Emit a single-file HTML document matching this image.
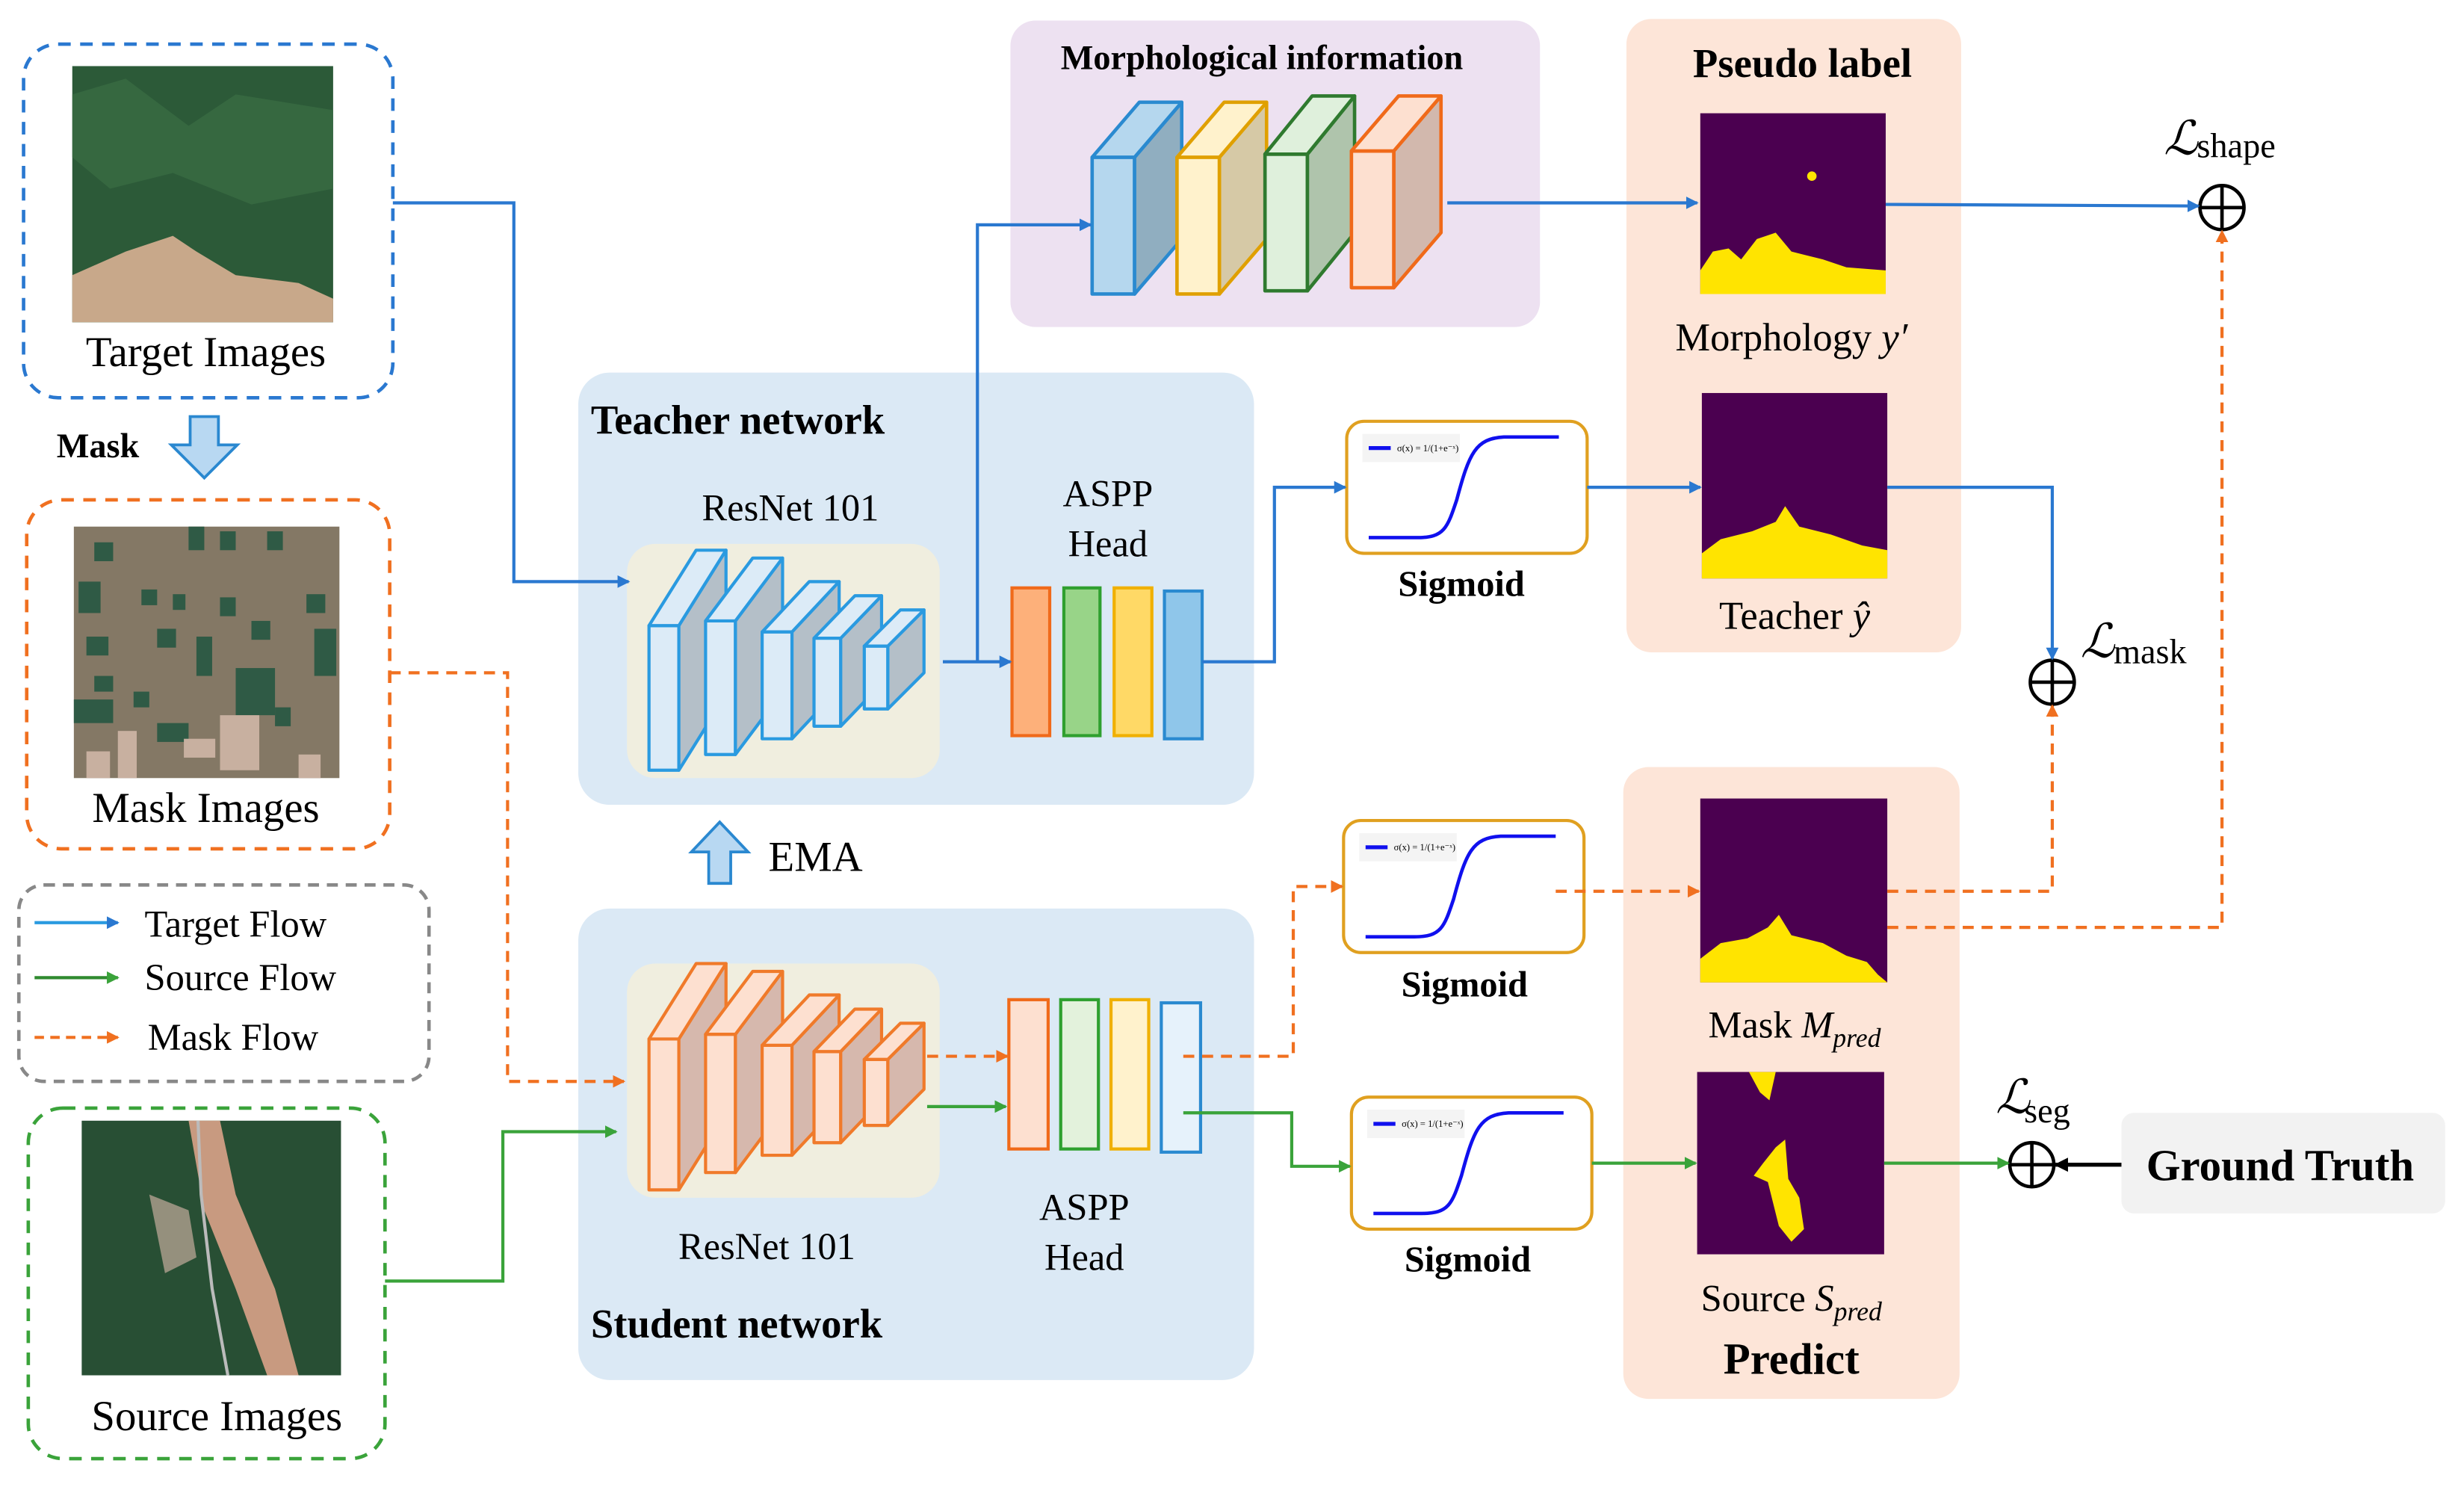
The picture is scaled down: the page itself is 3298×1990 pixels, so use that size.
<!DOCTYPE html>
<html><head><meta charset="utf-8"><style>html,body{margin:0;padding:0;background:#fff}svg{display:block}</style></head>
<body>
<svg width="3298" height="1990" viewBox="0 0 1568 946" xmlns="http://www.w3.org/2000/svg" font-family="'Liberation Serif',serif">
<defs>
<marker id="ab" markerWidth="8" markerHeight="8" refX="7" refY="4" orient="auto" markerUnits="userSpaceOnUse"><path d="M0,0L8,4L0,8z" fill="#2a78d0"/></marker>
<marker id="ag" markerWidth="8" markerHeight="8" refX="7" refY="4" orient="auto" markerUnits="userSpaceOnUse"><path d="M0,0L8,4L0,8z" fill="#3aa33a"/></marker>
<marker id="ao" markerWidth="8" markerHeight="8" refX="7" refY="4" orient="auto" markerUnits="userSpaceOnUse"><path d="M0,0L8,4L0,8z" fill="#f07020"/></marker>
<marker id="ak" markerWidth="9" markerHeight="9" refX="8" refY="4.5" orient="auto" markerUnits="userSpaceOnUse"><path d="M0,0L9,4.5L0,9z" fill="#000"/></marker>
<g id="sig">
<rect x="0" y="0" width="153" height="84" rx="11" fill="#fff" stroke="#e0a020" stroke-width="2"/>
<rect x="10" y="8" width="62" height="18" fill="#f4f4f4"/>
<line x1="14" y1="17" x2="28" y2="17" stroke="#1010ee" stroke-width="2.5"/>
<text x="32" y="19" font-size="6">σ(x) = 1/(1+e⁻ˣ)</text>
<path d="M14,74 L45,74 C62,74 64,68 70,50 C78,20 82,11 100,10 L135,10" fill="none" stroke="#1010ee" stroke-width="2.2"/>
</g>
</defs>

<!-- Target images -->
<rect x="15" y="28" width="235" height="225" rx="22" fill="none" stroke="#2a78d0" stroke-width="2.2" stroke-dasharray="8,6"/>
<rect x="46" y="42" width="166" height="163" fill="#2c5a38"/>
<path d="M46,60 L80,50 L120,80 L150,60 L212,70 L212,120 L160,130 L110,110 L70,120 L46,100z" fill="#3a6e44" opacity="0.7"/>
<path d="M46,175 L80,160 L110,150 L125,160 L150,175 L190,180 L212,190 L212,205 L46,205z" fill="#c8a88a"/>
<text x="131" y="233" font-size="27" text-anchor="middle">Target Images</text>

<text x="36" y="291" font-size="22" font-weight="bold">Mask</text>
<path d="M121,265 L139,265 L139,283 L151,283 L130,304 L109,283 L121,283z" fill="#b8d8f2" stroke="#2a88d0" stroke-width="1.8"/>

<!-- Mask images -->
<rect x="17" y="318" width="231" height="222" rx="22" fill="none" stroke="#f07020" stroke-width="2.2" stroke-dasharray="8,6"/>
<rect x="47" y="335" width="169" height="160" fill="#847865"/>
<g fill="#2f5a45">
<rect x="60" y="345" width="12" height="12"/><rect x="120" y="335" width="10" height="15"/><rect x="140" y="338" width="10" height="12"/><rect x="170" y="338" width="10" height="12"/>
<rect x="50" y="370" width="14" height="20"/><rect x="90" y="375" width="10" height="10"/><rect x="110" y="378" width="8" height="10"/><rect x="140" y="380" width="10" height="12"/><rect x="195" y="378" width="12" height="12"/>
<rect x="55" y="405" width="14" height="12"/><rect x="100" y="400" width="12" height="12"/><rect x="125" y="405" width="10" height="25"/><rect x="160" y="395" width="12" height="12"/><rect x="200" y="400" width="14" height="30"/>
<rect x="60" y="430" width="12" height="10"/><rect x="85" y="440" width="10" height="10"/><rect x="150" y="425" width="25" height="30"/><rect x="47" y="445" width="25" height="15"/><rect x="100" y="460" width="20" height="12"/><rect x="175" y="450" width="10" height="12"/>
</g>
<g fill="#c8b0a0"><rect x="55" y="478" width="15" height="17"/><rect x="75" y="465" width="12" height="30"/><rect x="117" y="470" width="20" height="12"/><rect x="140" y="455" width="25" height="35"/><rect x="190" y="480" width="14" height="15"/></g>
<text x="131" y="523" font-size="27" text-anchor="middle">Mask Images</text>

<!-- Legend -->
<rect x="12" y="563" width="261" height="125" rx="16" fill="none" stroke="#888" stroke-width="2.2" stroke-dasharray="7,5"/>
<line x1="22" y1="587" x2="75" y2="587" stroke="#2a9ae0" stroke-width="2" marker-end="url(#ab)"/>
<text x="92" y="596" font-size="24">Target Flow</text>
<line x1="22" y1="622" x2="75" y2="622" stroke="#2f8a2f" stroke-width="2" marker-end="url(#ag)"/>
<text x="92" y="630" font-size="24">Source Flow</text>
<line x1="22" y1="660" x2="75" y2="660" stroke="#f07020" stroke-width="2" stroke-dasharray="6,4" marker-end="url(#ao)"/>
<text x="94" y="668" font-size="24">Mask Flow</text>

<!-- Source images -->
<rect x="18" y="705" width="227" height="223" rx="22" fill="none" stroke="#3aa33a" stroke-width="2.2" stroke-dasharray="8,6"/>
<rect x="52" y="713" width="165" height="162" fill="#284f34"/>
<path d="M120,713 L140,713 L150,760 L175,820 L190,875 L170,875 L150,820 L130,770z" fill="#c89a80"/>
<path d="M126,713 L128,760 L135,820 L145,875" stroke="#bbb" stroke-width="2" fill="none"/>
<path d="M95,760 L120,770 L125,800 L105,810z" fill="#b0a090" opacity="0.8"/>
<text x="138" y="910" font-size="27" text-anchor="middle">Source Images</text>

<!-- Morphological box -->
<rect x="643" y="13" width="337" height="195" rx="16" fill="#ede1f1"/>
<text x="803" y="44" font-size="22" font-weight="bold" text-anchor="middle">Morphological information</text>
<g stroke-width="2.2" stroke-linejoin="round">
<g stroke="#2a8ad0"><rect x="695" y="100" width="27" height="87" fill="#b5d7ee"/><path d="M722,100L752,65L752,152L722,187z" fill="#90aec0"/><path d="M695,100L725,65L752,65L722,100z" fill="#b5d7ee"/></g>
<g stroke="#e0a000"><rect x="749" y="100" width="27" height="87" fill="#fff2cc"/><path d="M776,100L806,65L806,152L776,187z" fill="#d6c9a6"/><path d="M749,100L779,65L806,65L776,100z" fill="#fff2cc"/></g>
<g stroke="#2f7a2f"><rect x="805" y="98" width="27" height="87" fill="#dff0dc"/><path d="M832,98L862,61L862,148L832,185z" fill="#afc4ac"/><path d="M805,98L835,61L862,61L832,98z" fill="#dff0dc"/></g>
<g stroke="#f06a1a"><rect x="860" y="96" width="27" height="87" fill="#fde0d0"/><path d="M887,96L917,61L917,148L887,183z" fill="#d2b8ad"/><path d="M860,96L890,61L917,61L887,96z" fill="#fde0d0"/></g>
</g>

<!-- Pseudo label -->
<rect x="1035" y="12" width="213" height="403" rx="16" fill="#fde5d8"/>
<text x="1147" y="49" font-size="26" font-weight="bold" text-anchor="middle">Pseudo label</text>
<rect x="1082" y="72" width="118" height="115" fill="#4b0050"/>
<path d="M1082,172 L1090,160 L1100,158 L1108,165 L1118,152 L1130,148 L1140,160 L1160,165 L1175,170 L1200,172 L1200,187 L1082,187z" fill="#ffe400"/>
<circle cx="1153" cy="112" r="3" fill="#ffe400"/>
<text x="1140" y="223" font-size="25" text-anchor="middle">Morphology <tspan font-style="italic">y′</tspan></text>
<rect x="1083" y="250" width="118" height="118" fill="#4b0050"/>
<path d="M1083,352 L1095,343 L1115,338 L1130,332 L1136,322 L1145,335 L1165,340 L1185,347 L1201,350 L1201,368 L1083,368z" fill="#ffe400"/>
<text x="1142" y="400" font-size="25" text-anchor="middle">Teacher <tspan font-style="italic">ŷ</tspan></text>

<!-- Predict -->
<rect x="1033" y="488" width="214" height="402" rx="16" fill="#fde5d8"/>
<rect x="1082" y="508" width="119" height="117" fill="#4b0050"/>
<path d="M1082,625 L1082,610 L1095,600 L1112,597 L1125,590 L1132,582 L1140,595 L1160,600 L1175,608 L1188,612 L1195,620 L1201,625z" fill="#ffe400"/>
<text x="1142" y="660" font-size="24" text-anchor="middle">Mask <tspan font-style="italic">M<tspan font-size="17" dy="6">pred</tspan></tspan></text>
<rect x="1080" y="682" width="119" height="116" fill="#4b0050"/>
<path d="M1113,682 L1130,682 L1126,700 L1120,695z M1130,730 L1136,725 L1138,750 L1145,762 L1148,782 L1140,790 L1132,780 L1125,752 L1116,748 L1122,740z" fill="#ffe400"/>
<text x="1140" y="834" font-size="24" text-anchor="middle">Source <tspan font-style="italic">S<tspan font-size="17" dy="6">pred</tspan></tspan></text>
<text x="1140" y="874" font-size="28" font-weight="bold" text-anchor="middle">Predict</text>

<!-- Teacher network -->
<rect x="368" y="237" width="430" height="275" rx="20" fill="#dbe9f5"/>
<text x="376" y="276" font-size="26" font-weight="bold">Teacher network</text>
<text x="503" y="331" font-size="24" text-anchor="middle">ResNet 101</text>
<rect x="399" y="346" width="199" height="149" rx="18" fill="#f0eedf"/>
<g stroke="#2a9ae0" stroke-width="2" stroke-linejoin="round">
<rect x="413" y="398" width="19" height="92" fill="#dcebf7"/><path d="M432,398L462,350L462,442L432,490z" fill="#b4bfc8"/><path d="M413,398L443,350L462,350L432,398z" fill="#dcebf7"/>
<rect x="449" y="395" width="19" height="85" fill="#dcebf7"/><path d="M468,395L498,355L498,440L468,480z" fill="#b4bfc8"/><path d="M449,395L479,355L498,355L468,395z" fill="#dcebf7"/>
<rect x="485" y="402" width="19" height="68" fill="#dcebf7"/><path d="M504,402L534,370L534,438L504,470z" fill="#b4bfc8"/><path d="M485,402L515,370L534,370L504,402z" fill="#dcebf7"/>
<rect x="518" y="406" width="17" height="56" fill="#dcebf7"/><path d="M535,406L561,379L561,435L535,462z" fill="#b4bfc8"/><path d="M518,406L544,379L561,379L535,406z" fill="#dcebf7"/>
<rect x="550" y="411" width="15" height="40" fill="#dcebf7"/><path d="M565,411L588,388L588,428L565,451z" fill="#b4bfc8"/><path d="M550,411L573,388L588,388L565,411z" fill="#dcebf7"/>
</g>
<text x="705" y="322" font-size="24" text-anchor="middle">ASPP</text>
<text x="705" y="354" font-size="24" text-anchor="middle">Head</text>
<rect x="644" y="374" width="24" height="94" fill="#fdb07a" stroke="#f06a1a" stroke-width="2"/>
<rect x="677" y="374" width="23" height="94" fill="#98d488" stroke="#2fa02f" stroke-width="2"/>
<rect x="709" y="374" width="24" height="94" fill="#ffd966" stroke="#f0b000" stroke-width="2"/>
<rect x="741" y="376" width="24" height="94" fill="#8fc6ea" stroke="#2a8ad0" stroke-width="2"/>

<!-- EMA -->
<path d="M451,562 L465,562 L465,542 L476,542 L458,523 L440,542 L451,542z" fill="#b8d8f2" stroke="#2a88d0" stroke-width="1.8"/>
<text x="489" y="554" font-size="27">EMA</text>

<!-- Student network -->
<rect x="368" y="578" width="430" height="300" rx="20" fill="#dbe9f5"/>
<rect x="399" y="613" width="199" height="149" rx="18" fill="#f0eedf"/>
<g stroke="#f07a2a" stroke-width="2" stroke-linejoin="round">
<rect x="413" y="661" width="19" height="96" fill="#fde0d0"/><path d="M432,661L462,613L462,709L432,757z" fill="#d6b8ad"/><path d="M413,661L443,613L462,613L432,661z" fill="#fde0d0"/>
<rect x="449" y="658" width="19" height="88" fill="#fde0d0"/><path d="M468,658L498,618L498,706L468,746z" fill="#d6b8ad"/><path d="M449,658L479,618L498,618L468,658z" fill="#fde0d0"/>
<rect x="485" y="665" width="19" height="70" fill="#fde0d0"/><path d="M504,665L534,633L534,703L504,735z" fill="#d6b8ad"/><path d="M485,665L515,633L534,633L504,665z" fill="#fde0d0"/>
<rect x="518" y="669" width="17" height="58" fill="#fde0d0"/><path d="M535,669L561,642L561,700L535,727z" fill="#d6b8ad"/><path d="M518,669L544,642L561,642L535,669z" fill="#fde0d0"/>
<rect x="550" y="674" width="15" height="42" fill="#fde0d0"/><path d="M565,674L588,651L588,693L565,716z" fill="#d6b8ad"/><path d="M550,674L573,651L588,651L565,674z" fill="#fde0d0"/>
</g>
<rect x="642" y="636" width="25" height="95" fill="#fde0d0" stroke="#f06a1a" stroke-width="2"/>
<rect x="675" y="636" width="24" height="95" fill="#e3f2dc" stroke="#2fa02f" stroke-width="2"/>
<rect x="707" y="636" width="24" height="95" fill="#fff2cc" stroke="#f0b000" stroke-width="2"/>
<rect x="739" y="638" width="25" height="95" fill="#e6f2fb" stroke="#2a8ad0" stroke-width="2"/>
<text x="488" y="801" font-size="24" text-anchor="middle">ResNet 101</text>
<text x="690" y="776" font-size="24" text-anchor="middle">ASPP</text>
<text x="690" y="808" font-size="24" text-anchor="middle">Head</text>
<text x="376" y="851" font-size="26" font-weight="bold">Student network</text>

<!-- Sigmoids -->
<use href="#sig" x="857" y="268"/>
<text x="930" y="379" font-size="23" font-weight="bold" text-anchor="middle">Sigmoid</text>
<use href="#sig" x="855" y="522"/>
<text x="932" y="634" font-size="23" font-weight="bold" text-anchor="middle">Sigmoid</text>
<use href="#sig" x="860" y="698"/>
<text x="934" y="809" font-size="23" font-weight="bold" text-anchor="middle">Sigmoid</text>

<!-- Ground truth -->
<rect x="1350" y="708" width="206" height="64" rx="8" fill="#f2f2f2"/>
<text x="1451" y="751" font-size="28" font-weight="bold" text-anchor="middle">Ground Truth</text>

<!-- Circles -->
<g fill="none" stroke="#000" stroke-width="2.2">
<circle cx="1414" cy="132" r="14"/><path d="M1400,132H1428M1414,118V146"/>
<circle cx="1306" cy="434" r="14"/><path d="M1292,434H1320M1306,420V448"/>
<circle cx="1293" cy="741" r="14"/><path d="M1279,741H1307M1293,727V755"/>
</g>
<text x="1377" y="98" font-size="30" font-style="italic">ℒ</text><text x="1398" y="100" font-size="22">shape</text>
<text x="1324" y="418" font-size="30" font-style="italic">ℒ</text><text x="1345" y="422" font-size="22">mask</text>
<text x="1270" y="708" font-size="30" font-style="italic">ℒ</text><text x="1288" y="714" font-size="22">seg</text>

<!-- Blue flows -->
<g fill="none" stroke="#2a78d0" stroke-width="2">
<path d="M250,129H327V370H400" marker-end="url(#ab)"/>
<path d="M600,421H643" marker-end="url(#ab)"/>
<path d="M622,421V143H694" marker-end="url(#ab)"/>
<path d="M921,129H1080" marker-end="url(#ab)"/>
<path d="M1200,130L1399,131" marker-end="url(#ab)"/>
<path d="M765,421H811V310H856" marker-end="url(#ab)"/>
<path d="M1010,310H1082" marker-end="url(#ab)"/>
<path d="M1201,310H1306V419" marker-end="url(#ab)"/>
</g>
<!-- Orange flows -->
<g fill="none" stroke="#f07020" stroke-width="2" stroke-dasharray="7,5">
<path d="M248,428H323V688H397" marker-end="url(#ao)"/>
<path d="M590,672H641" marker-end="url(#ao)"/>
<path d="M753,672H823V564H854" marker-end="url(#ao)"/>
<path d="M990,567H1081" marker-end="url(#ao)"/>
<path d="M1201,567H1306V449" marker-end="url(#ao)"/>
<path d="M1201,590H1414V147" marker-end="url(#ao)"/>
</g>
<!-- Green flows -->
<g fill="none" stroke="#3aa33a" stroke-width="2">
<path d="M245,815H320V720H392" marker-end="url(#ag)"/>
<path d="M590,704H640" marker-end="url(#ag)"/>
<path d="M753,708H822V742H859" marker-end="url(#ag)"/>
<path d="M1013,740H1079" marker-end="url(#ag)"/>
<path d="M1199,740H1278" marker-end="url(#ag)"/>
</g>
<path d="M1350,741H1308" stroke="#000" stroke-width="2.5" marker-end="url(#ak)"/>
</svg>
</body></html>
